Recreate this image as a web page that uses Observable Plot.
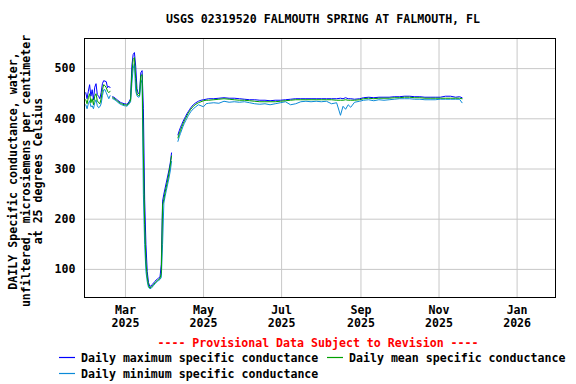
<!DOCTYPE html>
<html>
<head>
<meta charset="utf-8">
<script src="https://cdn.jsdelivr.net/npm/d3@7"></script>
<script src="https://cdn.jsdelivr.net/npm/@observablehq/plot@0.6"></script>
<style>
  body { margin: 0; background: #fff; }
  #wrap { width: 576px; height: 384px; position: relative; overflow: hidden;
          font-family: "DejaVu Sans Mono", monospace; font-weight: bold; font-size: 11.6px; color: #000; }
  #title { height: 30px; box-sizing: border-box; padding-top: 12px; line-height: 14px;
           text-align: center; padding-left: 70px; white-space: nowrap; }
  #chart svg { display: block; }
  #prov { color: #ff0000; text-align: center; padding-left: 60px; height: 14px; line-height: 14px;
          white-space: nowrap; }
  .row { position: relative; height: 16px; line-height: 16px; white-space: nowrap; }
  .sw { position: absolute; top: 4px; width: 17px; height: 8px; display: block; }
  .lab { position: absolute; top: 0; }
</style>
</head>
<body>
<div id="wrap">
  <div id="title"></div>
  <div id="chart"></div>
  <div id="prov"></div>
  <div class="row" id="row1"></div>
  <div class="row" id="row2"></div>
</div>
<script>
const titleText = "USGS 02319520 FALMOUTH SPRING AT FALMOUTH, FL";
const yLabel = "DAILY Specific conductance, water,\nunfiltered, microsiemens per centimeter\nat 25 degrees Celsius";
const provText = "---- Provisional Data Subject to Revision ----";
const seriesNames = ["Daily maximum specific conductance", "Daily mean specific conductance", "Daily minimum specific conductance"];
const seriesColors = ["#0000ff", "#00a000", "#0b8ad8"];

const yTicks = [100, 200, 300, 400, 500];
const tickDates = ["2025-03-01", "2025-05-01", "2025-07-01", "2025-09-01", "2025-11-01", "2026-01-01"];
const xDomain = ["2025-01-28", "2026-01-31"];
const yDomain = [44, 560];

const dates = [
  "2025-01-29","2025-01-30","2025-01-31","2025-02-01","2025-02-02","2025-02-03","2025-02-04","2025-02-05",
  "2025-02-06","2025-02-07","2025-02-08","2025-02-09","2025-02-10","2025-02-11","2025-02-12","2025-02-13",
  "2025-02-14","2025-02-15","2025-02-16","2025-02-17","2025-02-18",
  "2025-02-19","2025-02-20","2025-02-21","2025-02-22","2025-02-23","2025-02-24","2025-02-25","2025-02-26",
  "2025-02-27","2025-02-28","2025-03-01","2025-03-02","2025-03-03","2025-03-04","2025-03-05",
  "2025-03-06","2025-03-07","2025-03-08","2025-03-09","2025-03-10","2025-03-11","2025-03-12","2025-03-13",
  "2025-03-14","2025-03-15","2025-03-16","2025-03-17","2025-03-18","2025-03-19","2025-03-20","2025-03-21",
  "2025-03-22","2025-03-23","2025-03-24","2025-03-25","2025-03-26","2025-03-27","2025-03-28","2025-03-29",
  "2025-03-30","2025-03-31","2025-04-01","2025-04-02","2025-04-03","2025-04-04","2025-04-05","2025-04-06",
  "2025-04-07",
  "2025-04-11","2025-04-12","2025-04-13","2025-04-14","2025-04-15","2025-04-16","2025-04-17","2025-04-18",
  "2025-04-19","2025-04-20","2025-04-21","2025-04-23","2025-04-25","2025-04-27","2025-04-29","2025-05-01",
  "2025-05-03","2025-05-05","2025-05-09","2025-05-13","2025-05-17","2025-05-21","2025-05-25","2025-05-29",
  "2025-06-02","2025-06-06","2025-06-10","2025-06-14","2025-06-18","2025-06-22","2025-06-26","2025-06-30",
  "2025-07-04","2025-07-08","2025-07-12","2025-07-16","2025-07-20","2025-07-24","2025-07-28","2025-08-01",
  "2025-08-05","2025-08-09","2025-08-13","2025-08-16","2025-08-18","2025-08-20","2025-08-22","2025-08-24",
  "2025-08-27","2025-08-31","2025-09-03","2025-09-07","2025-09-11","2025-09-15","2025-09-19","2025-09-23",
  "2025-09-27","2025-10-01","2025-10-05","2025-10-09","2025-10-13","2025-10-17","2025-10-21","2025-10-25",
  "2025-10-29","2025-11-02","2025-11-06","2025-11-10","2025-11-14","2025-11-17","2025-11-19"
];

const meanVals = [
  438,430,442,450,432,440,428,445,450,436,432,430,440,458,468,466,462,455,452,455,null,
  442,441,439,437,435,433,431,430,429,428,428,427,429,432,437,
  490,518,522,480,450,446,447,486,488,330,190,115,85,68,63,64,
  67,70,73,76,78,80,82,92,228,240,254,266,278,292,308,326,
  null,
  362,370,377,384,390,396,401,406,411,415,419,425,429,432,434,436,
  437,437,438,439,440,439,438,437,437,436,435,434,434,434,434,435,
  436,437,438,438,438,438,438,438,438,438,437,437,437,438,437,437,
  437,438,440,441,440,441,441,441,442,442,443,443,442,442,441,441,
  441,441,441,441,441,441,440
];
const maxVals = [
  452,440,455,468,445,458,438,463,470,448,445,440,452,470,476,475,474,462,465,462,null,
  444,443,441,439,437,435,433,432,431,430,430,429,431,435,440,
  505,528,532,505,460,450,452,492,496,420,240,150,96,74,66,67,
  70,73,76,79,81,83,85,110,236,250,262,274,286,298,312,332,
  null,
  368,376,383,389,395,400,405,410,414,418,422,428,432,435,437,438,
  439,440,440,441,442,441,441,440,439,438,438,437,437,436,437,437,
  438,439,440,440,440,440,440,440,440,440,440,441,440,442,440,440,
  439,440,442,443,442,443,443,443,444,444,445,445,444,444,443,443,
  443,443,445,445,443,444,442
];
const minVals = [
  428,420,430,436,424,426,420,432,438,426,422,424,430,446,458,458,452,446,440,446,null,
  440,439,437,435,433,431,429,428,427,426,426,425,427,430,434,
  470,500,510,455,446,443,444,470,478,250,150,96,76,64,62,62,
  65,68,71,74,76,78,80,84,150,232,246,258,270,282,296,315,
  null,
  355,364,371,378,385,391,396,401,406,410,414,420,424,428,426,424,
  430,431,432,431,435,433,434,433,434,432,430,429,430,428,430,432,
  434,428,430,434,435,434,435,434,435,430,432,407,425,419,428,423,
  433,435,437,438,436,438,437,438,439,440,440,440,439,439,438,438,
  438,439,439,439,439,439,432
];

document.getElementById("title").textContent = titleText;
document.getElementById("prov").textContent = provText;

const rows = dates.map((d, i) => ({date: new Date(d), max: maxVals[i], mean: meanVals[i], min: minVals[i]}));
const fmt = d3.utcFormat("%b\n%Y");

const chart = Plot.plot({
  width: 576,
  height: 306,
  marginTop: 8,
  marginBottom: 39,
  marginLeft: 84,
  marginRight: 21,
  style: {fontFamily: "DejaVu Sans Mono, monospace", fontSize: "11.6px", fontWeight: "bold", color: "#000", background: "#fff"},
  x: {type: "utc", domain: xDomain.map(d => new Date(d))},
  y: {domain: yDomain},
  marks: [
    Plot.gridY(yTicks, {stroke: "#c8c8c8", strokeOpacity: 1}),
    Plot.gridX(tickDates.map(d => new Date(d)), {stroke: "#c8c8c8", strokeOpacity: 1}),
    Plot.line(rows, {x: "date", y: "max", stroke: seriesColors[0], strokeWidth: 1}),
    Plot.line(rows, {x: "date", y: "min", stroke: seriesColors[2], strokeWidth: 1}),
    Plot.line(rows, {x: "date", y: "mean", stroke: seriesColors[1], strokeWidth: 1}),
    Plot.axisY(yTicks, {tickSize: 0, tickPadding: 9, label: null, fill: "#000"}),
    Plot.axisX(tickDates.map(d => new Date(d)), {tickSize: 0, tickPadding: 8, label: null, tickFormat: fmt, lineHeight: 1.08, fill: "#000"}),
    Plot.text([yLabel], {frameAnchor: "left", rotate: -90, dx: -59, dy: 3, lineHeight: 1.1, textAnchor: "middle", lineAnchor: "middle", fill: "#000"}),
    Plot.frame({stroke: "#000"})
  ]
});
document.getElementById("chart").appendChild(chart);

const NS = "http://www.w3.org/2000/svg";
function addItem(row, idx, lineLeft, textLeft) {
  const sw = document.createElementNS(NS, "svg");
  sw.setAttribute("class", "sw");
  sw.setAttribute("width", "17");
  sw.setAttribute("height", "8");
  sw.style.left = lineLeft + "px";
  const ln = document.createElementNS(NS, "line");
  ln.setAttribute("x1", "0");
  ln.setAttribute("x2", "16");
  ln.setAttribute("y1", "3.5");
  ln.setAttribute("y2", "3.5");
  ln.setAttribute("stroke", seriesColors[idx]);
  ln.setAttribute("stroke-width", "1.2");
  sw.appendChild(ln);
  const lab = document.createElement("div");
  lab.className = "lab";
  lab.style.left = textLeft + "px";
  lab.textContent = seriesNames[idx];
  row.appendChild(sw);
  row.appendChild(lab);
}
addItem(document.getElementById("row1"), 0, 59, 81);
addItem(document.getElementById("row1"), 1, 327, 349);
addItem(document.getElementById("row2"), 2, 59, 81);
</script>
</body>
</html>
